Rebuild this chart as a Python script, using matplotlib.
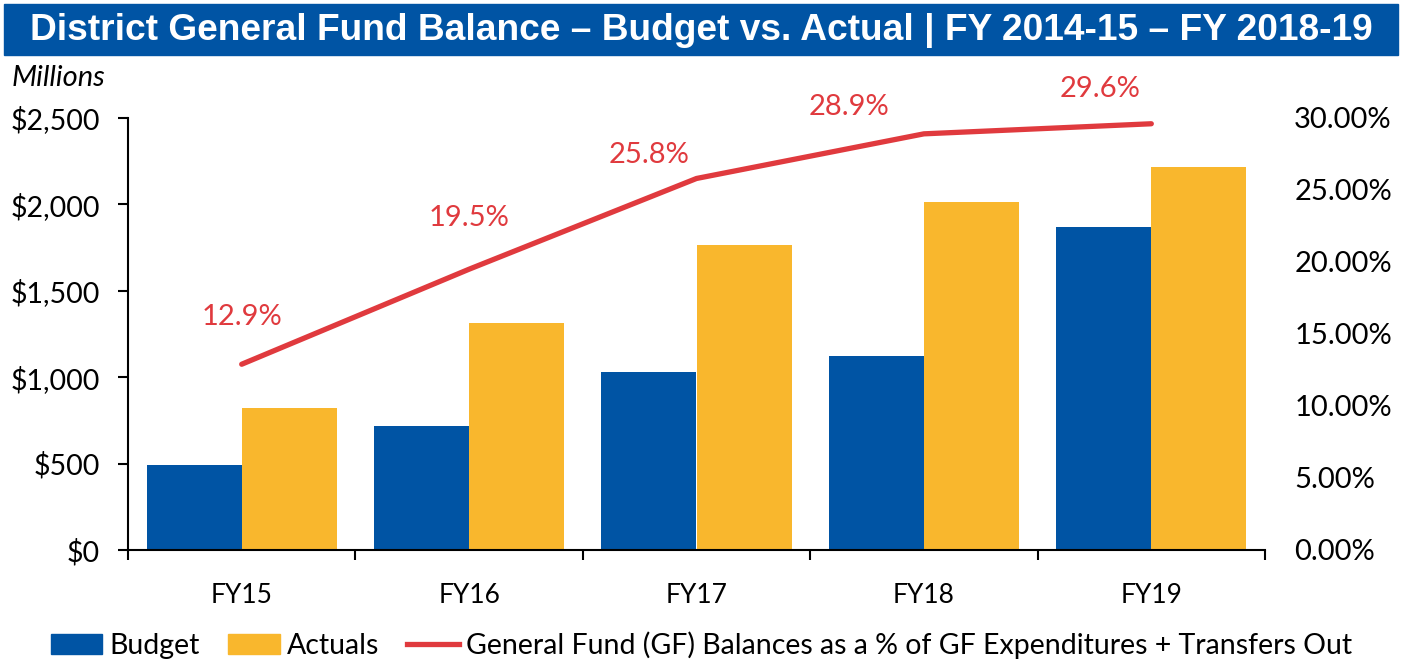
import matplotlib
matplotlib.use("agg")
import matplotlib.pyplot as plt
from matplotlib.patches import Rectangle
from matplotlib.lines import Line2D
import numpy as np

plt.rcParams['font.family'] = ['Lato', 'DejaVu Sans']

years = ['FY15', 'FY16', 'FY17', 'FY18', 'FY19']
budget = [492, 718, 1030, 1122, 1870]
actuals = [822, 1313, 1765, 2013, 2216]
gf_pct = [12.9, 19.5, 25.8, 28.9, 29.6]
pct_labels = ['12.9%', '19.5%', '25.8%', '28.9%', '29.6%']

blue = '#0054A4'
gold = '#F9B72D'
red = '#E03A3E'

fig = plt.figure(figsize=(14.03, 6.61), dpi=100)
ax = fig.add_axes([128/1403, 1 - 550/661, (1265 - 128)/1403, (550 - 118)/661])

# title banner
fig.patches.append(Rectangle((4/1403, 1 - 55/661), 1394/1403, 51/661,
                             transform=fig.transFigure, color=blue, zorder=0))
fig.text(0.5, 1 - 31/661, 'District General Fund Balance \u2013 Budget vs. Actual | FY 2014-15 \u2013 FY 2018-19',
         ha='center', va='center', color='white', fontsize=26.7, fontweight='bold',
         family='Liberation Sans')

x = np.arange(len(years))
w = 0.418
ax.bar(x - w/2, budget, w, color=blue, label='Budget')
ax.bar(x + w/2, actuals, w, color=gold, label='Actuals')

ax.set_xlim(-0.5, len(years) - 0.5)
ax.set_ylim(0, 2500)
ax.set_yticks(np.arange(0, 2501, 500))
ax.set_yticklabels(['${:,.0f}'.format(v) for v in np.arange(0, 2501, 500)])
ax.set_xticks(x)
ax.set_xticklabels(years)
ax.set_xticks(np.arange(-0.5, len(years)), minor=True)
ax.tick_params(axis='x', which='major', length=0, labelsize=19, pad=24)
ax.tick_params(axis='x', which='minor', length=7, width=1.5)
ax.tick_params(axis='y', length=7, width=1.5, labelsize=20.5, pad=13)
ax.spines['top'].set_visible(False)
ax.spines['right'].set_visible(False)
ax.spines['left'].set_linewidth(1.5)
ax.spines['bottom'].set_linewidth(1.5)

ax2 = ax.twinx()
ax2.plot(x, gf_pct, color=red, lw=3.8, solid_capstyle='round')
ax2.set_ylim(0, 30)
ax2.set_yticks(np.arange(0, 31, 5))
ax2.set_yticklabels(['{:.2f}%'.format(v) for v in np.arange(0, 31, 5)])
ax2.tick_params(axis='y', length=0, labelsize=21, pad=21)
for s in ax2.spines.values():
    s.set_visible(False)

offsets = [(0, 34), (0, 37), (-34, 17), (-54, 19), (-37, 25)]
for xi, yi, lab, off in zip(x, gf_pct, pct_labels, offsets):
    ax2.annotate(lab, (xi, yi), xytext=off, textcoords='offset points',
                 ha='center', va='center', color=red, fontsize=21)

fig.text(12/1403, 1 - 78/661, 'Millions', fontstyle='italic', fontsize=21,
         ha='left', va='center')

handles = [Rectangle((0, 0), 1, 1, color=blue), Rectangle((0, 0), 1, 1, color=gold),
           Line2D([0], [0], color=red, lw=3.8)]
fig.legend(handles, ['Budget', 'Actuals',
                     'General Fund (GF) Balances as a % of GF Expenditures + Transfers Out'],
           loc='center', bbox_to_anchor=(0.5, 1 - 645/661), ncol=3, frameon=False,
           fontsize=20.5, handlelength=1.8, handleheight=0.7, handletextpad=0.25,
           columnspacing=1.0)

fig.savefig('out.png', dpi=100)
